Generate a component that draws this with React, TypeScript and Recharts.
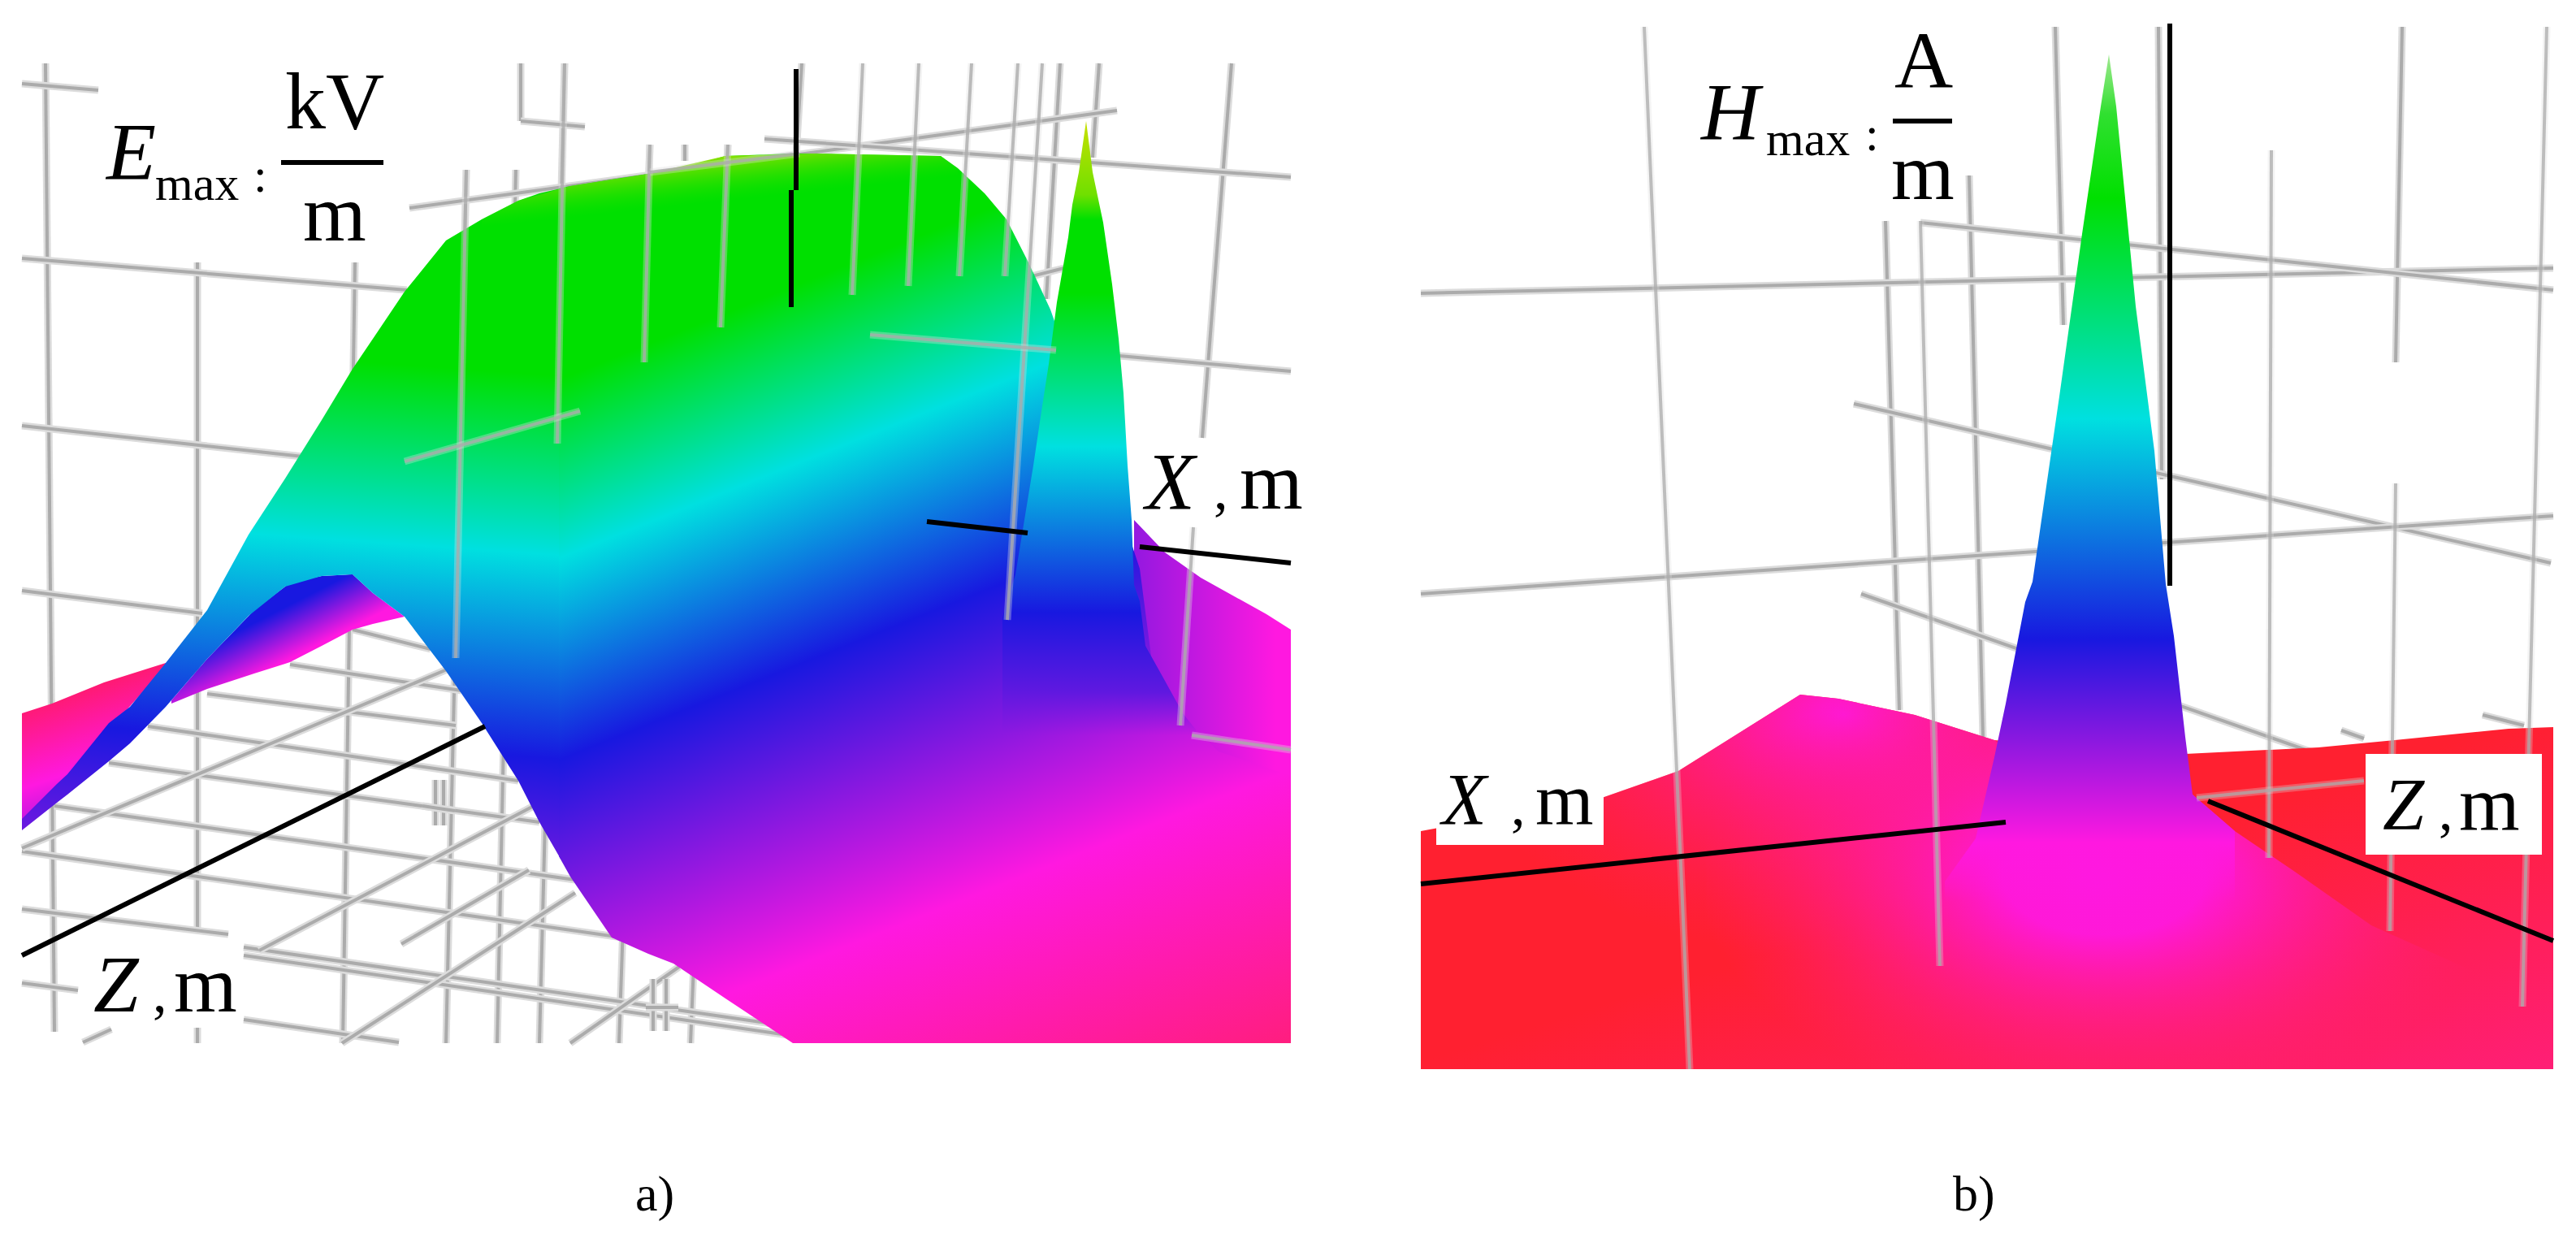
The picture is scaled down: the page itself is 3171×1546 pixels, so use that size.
import React from "react";
import { ComposedChart, Area, Line, XAxis, YAxis, ReferenceDot } from "recharts";

type Seg = [number, number, number, number];
type Row = [number, number, number];

// ---- Panel a) surface sections: [x, upper edge, lower edge]
const mainLeftA: Row[] = [
  [27,1008,1022],[70,965,988],[83,953,978],[134,890,937],[160,870,915],[204,816,870],[255,751,811],
  [306,658,758],[351,589,722],[396,517,709],[434,454,707],[459,417,730],[498,359,759],[549,296,826],
  [593,270,890],[638,247,961],[664,238,1012],[690,232,1057],
];
const mainRightA: Row[] = [
  [688,232,1054],[702,229,1079],[753,221,1154],[798,214,1174],[829,210,1186],[893,192,1229],[976,189,1284],
  [1000,189,1284],[1158,192,1284],[1179,207,1284],[1212,238,1284],[1239,270,1284],[1266,323,1284],[1293,381,1284],
  [1370,600,1284],[1403,700,1284],[1418,815,1284],[1445,858,1284],[1464,890,1284],[1500,925,1284],[1589,955,1284],
];
const crestA: Row[] = [
  [593,270,300],[638,247,290],[702,229,280],[798,214,270],[893,192,250],[1000,189,245],[1158,192,230],[1179,207,230],
];
const pinkA: Row[] = [[27,878,1020],[64,866,990],[128,840,905],[204,816,820]];
const humpA: Row[] = [
  [211,862,866],[255,811,848],[313,751,829],[351,722,817],[357,717,815],[396,709,795],[434,707,775],[459,730,768],[498,759,759],
];
const backRightA: Row[] = [[1396,640,1000],[1434,680,1000],[1478,711,1000],[1559,756,1000],[1589,775,1000]];
const spikeA: Row[] = [
  [1234,760,905],[1250,707,905],[1261,640,905],[1272,573,905],[1282,506,905],[1291,448,905],[1301,372,905],[1315,292,905],
  [1320,252,905],[1328,212,905],[1337,149,905],[1345,212,905],[1358,274,905],[1369,350,905],[1377,417,905],[1383,484,905],
  [1388,573,905],[1393,640,905],[1396,720,905],[1403,740,905],[1410,795,905],[1434,838,905],[1456,878,905],[1472,898,905],
];

// ---- Panel a) grid lines: [x1, y1, x2, y2]
const backGridA: Seg[] = [
  [56,78,67,1270],[243,323,243,1146],[243,1265,243,1284],[437,323,422,1284],[574,209,549,1284],[635,209,612,1284],[695,78,664,1284],
  [641,78,641,149],[641,149,720,156],[800,178,762,1284],[843,178,843,198],[896,178,850,1284],[987,78,980,190],
  [1305,78,1288,368],[1353,78,1345,194],[1516,78,1480,539],
  [27,103,121,111],[27,318,501,357],[27,524,373,562],[27,727,249,755],
  [504,256,1375,136],[941,171,1589,218],[1300,431,1589,457],[1266,341,1310,330],
  [434,775,530,799],[357,818,568,850],[255,854,561,893],[182,894,638,961],[134,939,664,1012],[67,992,708,1083],[27,1048,766,1154],
  [27,1119,281,1150],[300,1166,957,1261],[300,1176,976,1275],[300,1255,491,1283],[27,1210,96,1219],
  [27,1044,555,822],[319,1170,657,992],[102,1283,137,1267],[421,1284,708,1099],[494,1162,651,1071],[702,1284,836,1190],
  [536,960,536,1016],[546,960,546,1016],[520,992,560,998],[804,1205,804,1269],[820,1205,820,1269],[795,1240,835,1240],
];
const frontGridA: Seg[] = [
  [574,209,561,810],[695,78,686,546],[800,178,793,446],[896,178,887,403],[1062,78,1049,363],[1131,78,1118,352],
  [1196,78,1181,340],[1253,78,1237,340],[1283,78,1240,763],[1469,649,1453,893],
  [498,568,714,506],[1071,412,1300,431],[1467,905,1589,923],[800,212,984,189],
];
const axesA: Seg[] = [[980,85,980,234],[974,234,974,378],[1141,642,1265,656],[1403,673,1589,693],[27,1176,597,894],[346,200,472,200]];

// ---- Panel b) surface sections
const baseB: Row[] = [
  [1749,1023,1316],[1972,982,1316],[2066,949,1316],[2216,855,1316],[2263,860,1316],[2357,880,1316],[2455,911,1316],
  [2560,920,1316],[2690,928,1316],[2854,920,1316],[2948,911,1316],[3088,897,1316],[3143,895,1316],
];
const bumpB: Row[] = [
  [1749,1023,1316],[1972,982,1316],[2066,949,1316],[2216,855,1316],[2263,860,1316],[2357,880,1316],[2455,911,1316],[2560,1000,1316],
];
const footB: Row[] = [
  [2100,930,1316],[2263,860,1316],[2357,880,1316],[2455,911,1316],[2500,925,1316],[2699,978,1316],[2751,1023,1316],
  [2825,1073,1316],[2919,1139,1316],[3143,1240,1316],
];
const spikeB: Row[] = [
  [2394,1085,1110],[2432,1032,1110],[2455,932,1110],[2469,866,1110],[2493,741,1110],[2502,716,1110],[2535,488,1110],[2563,288,1110],
  [2586,131,1110],[2596,67,1110],[2605,131,1110],[2629,377,1110],[2652,555,1110],[2666,719,1110],[2676,783,1110],[2690,907,1110],
  [2699,978,1110],[2751,1023,1110],
];
const labelBoxesB: Row[][] = [
  [[1768,950,1040],[1974,950,1040]],
  [[2912,928,1052],[3129,928,1052]],
];

// ---- Panel b) grid lines
const backGridB: Seg[] = [
  [2321,272,2338,874],[2424,216,2441,907],[2530,33,2540,400],[2657,33,2661,590],[2957,33,2949,446],
  [1749,361,3143,330],[2364,274,3143,357],[2282,497,3140,693],[1749,731,3143,635],[2291,731,2901,945],
  [2882,899,2910,909],[3056,880,3107,893],
];
const frontGridB: Seg[] = [
  [2024,33,2080,1316],[2364,272,2388,1189],[2796,185,2793,1056],[2949,595,2942,1146],[3135,33,3105,1239],[2704,982,2910,961],
];
const axesB: Seg[] = [[2671,29,2671,721],[1749,1088,2469,1012],[2718,986,3143,1158],[2330,149,2403,149]];

// ---- Text
const textLabels: { x: number; y: number; text: string; size: number; italic?: boolean }[] = [
  { x: 131, y: 220, text: "E", size: 100, italic: true },
  { x: 191, y: 246, text: "max", size: 60 },
  { x: 312, y: 236, text: ":", size: 60 },
  { x: 351, y: 158, text: "kV", size: 100 },
  { x: 373, y: 296, text: "m", size: 100 },
  { x: 1410, y: 626, text: "X", size: 100, italic: true },
  { x: 1494, y: 626, text: ",", size: 70 },
  { x: 1526, y: 626, text: "m", size: 100 },
  { x: 115, y: 1245, text: "Z", size: 100, italic: true },
  { x: 188, y: 1245, text: ",", size: 70 },
  { x: 214, y: 1245, text: "m", size: 100 },
  { x: 782, y: 1490, text: "a)", size: 62 },
  { x: 2094, y: 171, text: "H", size: 100, italic: true },
  { x: 2174, y: 191, text: "max", size: 60 },
  { x: 2296, y: 185, text: ":", size: 60 },
  { x: 2332, y: 108, text: "A", size: 100 },
  { x: 2328, y: 245, text: "m", size: 100 },
  { x: 1775, y: 1015, text: "X", size: 90, italic: true },
  { x: 1860, y: 1015, text: ",", size: 70 },
  { x: 1890, y: 1015, text: "m", size: 92 },
  { x: 2933, y: 1021, text: "Z", size: 92, italic: true },
  { x: 3002, y: 1021, text: ",", size: 70 },
  { x: 3027, y: 1021, text: "m", size: 96 },
  { x: 2404, y: 1490, text: "b)", size: 62 },
];

const rows = (r: Row[]) => r.map(([x, t, b]) => ({ x, band: [t, b] }));
const seg = ([a, b, c, d]: Seg) => [{ x: a, y: b }, { x: c, y: d }];

const band = (r: Row[], fill: string, key: string) => (
  <Area key={key} data={rows(r)} dataKey="band" type="linear" stroke="none" fill={fill} fillOpacity={1} dot={false} activeDot={false}
    isAnimationActive={false} legendType="none" zIndex={100} />
);
const gridLines = (segs: Seg[], prefix: string, z: number, haloOp: number, coreOp: number) =>
  segs.flatMap((s, i) => [
    <Line key={`${prefix}h${i}`} data={seg(s)} dataKey="y" type="linear" stroke="#dcdcdc" strokeOpacity={haloOp} strokeWidth={9} dot={false} activeDot={false}
      isAnimationActive={false} legendType="none" zIndex={z} />,
    <Line key={`${prefix}c${i}`} data={seg(s)} dataKey="y" type="linear" stroke="#ababab" strokeOpacity={coreOp} strokeWidth={4} dot={false} activeDot={false}
      isAnimationActive={false} legendType="none" zIndex={z} />,
  ]);
const blackLines = (segs: Seg[], prefix: string) =>
  segs.map((s, i) => (
    <Line key={`${prefix}${i}`} data={seg(s)} dataKey="y" type="linear" stroke="#000" strokeWidth={6} dot={false} activeDot={false}
      isAnimationActive={false} legendType="none" zIndex={420} />
  ));

const G = "#00e000", C = "#00e0e0", B = "#1818e0", M = "#ff18e0", R = "#ff1e78";

export default function App() {
  return (
    <div style={{ position: "absolute", left: 0, top: 0, background: "#fff" }}>
      <ComposedChart width={3171} height={1546} margin={{ top: 0, right: 0, bottom: 0, left: 0 }}>
        <defs>
          <linearGradient id="mainR" gradientUnits="userSpaceOnUse" x1="0" y1="0" x2="666" y2="1674">
            <stop offset="0.382" stopColor={G} /><stop offset="0.4955" stopColor={C} /><stop offset="0.6236" stopColor={B} />
            <stop offset="0.8146" stopColor={M} /><stop offset="1" stopColor={R} />
          </linearGradient>
          <linearGradient id="mainL" gradientUnits="userSpaceOnUse" x1="0" y1="0" x2="-113" y2="1610">
            <stop offset="0.256" stopColor={G} /><stop offset="0.3925" stopColor={C} /><stop offset="0.5475" stopColor={B} />
            <stop offset="0.775" stopColor={M} /><stop offset="1" stopColor={R} />
          </linearGradient>
          <linearGradient id="crest" gradientUnits="userSpaceOnUse" x1="900" y1="190" x2="906" y2="246">
            <stop offset="0" stopColor="#90e000" stopOpacity={1} /><stop offset="1" stopColor="#20e000" stopOpacity={0} />
          </linearGradient>
          <linearGradient id="pinkA" gradientUnits="userSpaceOnUse" x1="60" y1="860" x2="110" y2="1010">
            <stop offset="0" stopColor="#ff1a70" /><stop offset="0.6" stopColor={M} /><stop offset="1" stopColor="#a018e0" />
          </linearGradient>
          <linearGradient id="humpA" gradientUnits="userSpaceOnUse" x1="369" y1="738" x2="396" y2="791">
            <stop offset="0" stopColor={B} /><stop offset="1" stopColor={M} />
          </linearGradient>
          <linearGradient id="backA" gradientUnits="userSpaceOnUse" x1="1390" y1="0" x2="1570" y2="0">
            <stop offset="0" stopColor="#9018e0" /><stop offset="1" stopColor={M} />
          </linearGradient>
          <linearGradient id="spikeA" gradientUnits="userSpaceOnUse" x1="0" y1="149" x2="0" y2="905">
            <stop offset="0" stopColor="#c8e000" /><stop offset="0.12" stopColor="#70e000" /><stop offset="0.16" stopColor={G} />
            <stop offset="0.28" stopColor={G} /><stop offset="0.53" stopColor={C} /><stop offset="0.8" stopColor={B} />
            <stop offset="0.93" stopColor="#6018e0" stopOpacity={1} /><stop offset="1" stopColor="#8018e0" stopOpacity={0} />
          </linearGradient>
          <linearGradient id="baseB" gradientUnits="userSpaceOnUse" x1="2300" y1="1100" x2="2500" y2="1750">
            <stop offset="0.05" stopColor="#ff2030" /><stop offset="0.8" stopColor="#ff1e85" />
          </linearGradient>
          <radialGradient id="bumpB" gradientUnits="userSpaceOnUse" cx="0" cy="0" r="1" gradientTransform="translate(2270 880) scale(480 300)">
            <stop offset="0" stopColor="#ff18d8" stopOpacity={1} /><stop offset="1" stopColor="#ff1e60" stopOpacity={0} />
          </radialGradient>
          <radialGradient id="footB" gradientUnits="userSpaceOnUse" cx="0" cy="0" r="1" gradientTransform="translate(2590 1078) scale(500 290)">
            <stop offset="0" stopColor={M} stopOpacity={1} /><stop offset="0.25" stopColor={M} stopOpacity={0.95} />
            <stop offset="1" stopColor="#ff1e80" stopOpacity={0} />
          </radialGradient>
          <linearGradient id="spikeB" gradientUnits="userSpaceOnUse" x1="0" y1="67" x2="0" y2="1110">
            <stop offset="0" stopColor="#a0e890" /><stop offset="0.07" stopColor="#30e030" /><stop offset="0.17" stopColor={G} />
            <stop offset="0.43" stopColor={C} /><stop offset="0.69" stopColor={B} /><stop offset="0.93" stopColor={M} stopOpacity={1} />
            <stop offset="1" stopColor={M} stopOpacity={0} />
          </linearGradient>
        </defs>
        <XAxis type="number" dataKey="x" domain={[0, 3171]} hide />
        <YAxis type="number" domain={[0, 1546]} reversed hide />

        {gridLines(backGridA, "ba", 50, 1, 1)}
        {gridLines(backGridB, "bb", 50, 1, 1)}

        {band(pinkA, "url(#pinkA)", "pinkA")}
        {band(backRightA, "url(#backA)", "backA")}
        {band(humpA, "url(#humpA)", "humpA")}
        {band(mainLeftA, "url(#mainL)", "mainL")}
        {band(mainRightA, "url(#mainR)", "mainR")}
        {band(crestA, "url(#crest)", "crest")}
        {band(spikeA, "url(#spikeA)", "spikeA")}

        {band(baseB, "url(#baseB)", "baseB")}
        {band(bumpB, "url(#bumpB)", "bumpB")}
        {band(footB, "url(#footB)", "footB")}
        {band(spikeB, "url(#spikeB)", "spikeB")}

        {gridLines(frontGridA, "fa", 400, 0.35, 0.8)}
        {gridLines(frontGridB, "fb", 400, 0.3, 0.75)}
        {blackLines(axesA, "ka")}
        {blackLines(axesB, "kb")}
        {labelBoxesB.map((b, i) => (
          <Area key={`box${i}`} data={rows(b)} dataKey="band" type="linear" stroke="none" fill="#fff" fillOpacity={1} dot={false} activeDot={false}
            isAnimationActive={false} legendType="none" zIndex={430} />
        ))}
        {textLabels.map((t, i) => (
          <ReferenceDot key={`t${i}`} x={t.x} y={t.y} r={0} zIndex={700}
            shape={(p: any) => (
              <text x={p.cx} y={p.cy} fontFamily="'Liberation Serif', serif" fontSize={t.size} fontStyle={t.italic ? "italic" : "normal"} fill="#000">{t.text}</text>
            )} />
        ))}
      </ComposedChart>
    </div>
  );
}
